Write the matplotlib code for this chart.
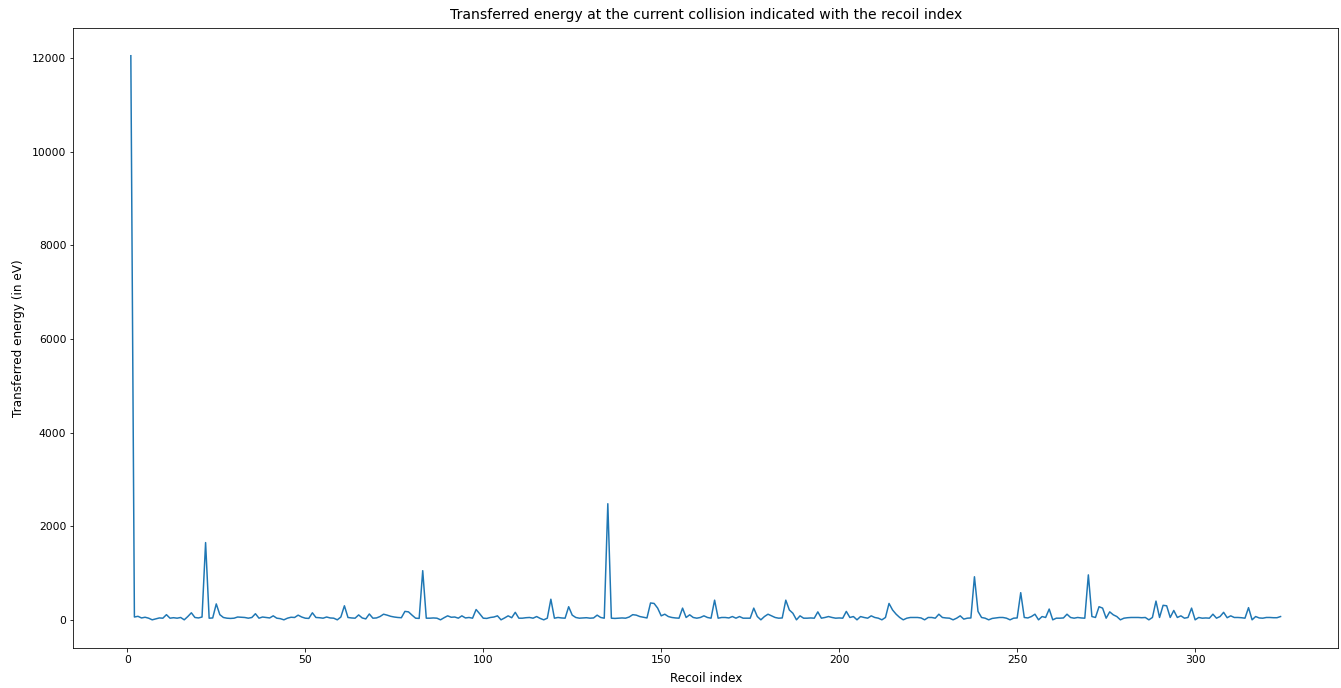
import matplotlib
matplotlib.use("Agg")
import matplotlib.pyplot as plt
import numpy as np

recoil_index = list(range(1, 325))
transferred_energy = [
    12050, 60, 75, 40, 55, 35, 0, 20, 40, 35,
    110, 35, 45, 35, 50, 0, 70, 150, 50, 40,
    60, 1650, 35, 40, 340, 110, 50, 35, 30, 35,
    60, 55, 50, 35, 50, 130, 35, 60, 50, 40,
    85, 35, 25, 0, 35, 55, 50, 100, 60, 35,
    30, 150, 50, 45, 35, 60, 40, 35, 0, 60,
    300, 50, 40, 35, 105, 40, 20, 125, 35, 40,
    70, 120, 100, 75, 60, 50, 45, 180, 170, 100,
    35, 30, 1050, 35, 35, 40, 35, 0, 45, 85,
    55, 60, 35, 85, 40, 50, 35, 220, 130, 35,
    30, 50, 60, 85, 0, 40, 85, 45, 160, 35,
    35, 45, 50, 35, 70, 30, 0, 35, 440, 35,
    50, 40, 35, 280, 100, 50, 35, 40, 45, 35,
    40, 100, 50, 35, 2480, 35, 30, 35, 40, 35,
    60, 110, 100, 70, 55, 40, 360, 350, 250, 85,
    120, 70, 50, 40, 35, 250, 50, 107, 50, 35,
    50, 85, 50, 35, 420, 35, 50, 50, 40, 70,
    35, 70, 35, 35, 35, 250, 70, 0, 70, 120,
    85, 50, 35, 40, 420, 210, 140, 0, 85, 35,
    35, 40, 35, 170, 35, 50, 70, 50, 35, 40,
    35, 180, 50, 70, 0, 70, 50, 35, 85, 50,
    35, 0, 50, 350, 210, 120, 50, 0, 35, 50,
    50, 50, 40, 0, 50, 50, 35, 120, 50, 40,
    35, 0, 35, 85, 15, 35, 40, 920, 180, 50,
    35, 0, 30, 40, 50, 50, 35, 0, 35, 40,
    580, 50, 40, 70, 120, 0, 70, 50, 230, 0,
    35, 35, 40, 120, 50, 35, 50, 40, 35, 960,
    70, 50, 280, 250, 35, 170, 107, 70, 0, 35,
    45, 50, 50, 50, 45, 50, 0, 50, 400, 50,
    310, 300, 50, 200, 50, 85, 35, 50, 250, 0,
    50, 35, 40, 35, 120, 35, 70, 160, 45, 85,
    50, 50, 45, 35, 260, 0, 70, 40, 35, 50,
    50, 45, 45, 70,
]

DPI = 72
fig = plt.figure(figsize=(1341 / DPI, 688 / DPI), dpi=DPI)
ax = fig.add_axes([0.0547, 0.0581, 0.9431, 0.9019])
ax.plot(recoil_index, transferred_energy)
ax.tick_params(labelsize=10.8)
ax.set_title("Transferred energy at the current collision indicated with the recoil index",
             fontsize=14, pad=9)
ax.set_xlabel("Recoil index", fontsize=12, labelpad=7)
ax.set_ylabel("Transferred energy (in eV)", fontsize=12, labelpad=7)
fig.savefig("out.png", dpi=DPI)
